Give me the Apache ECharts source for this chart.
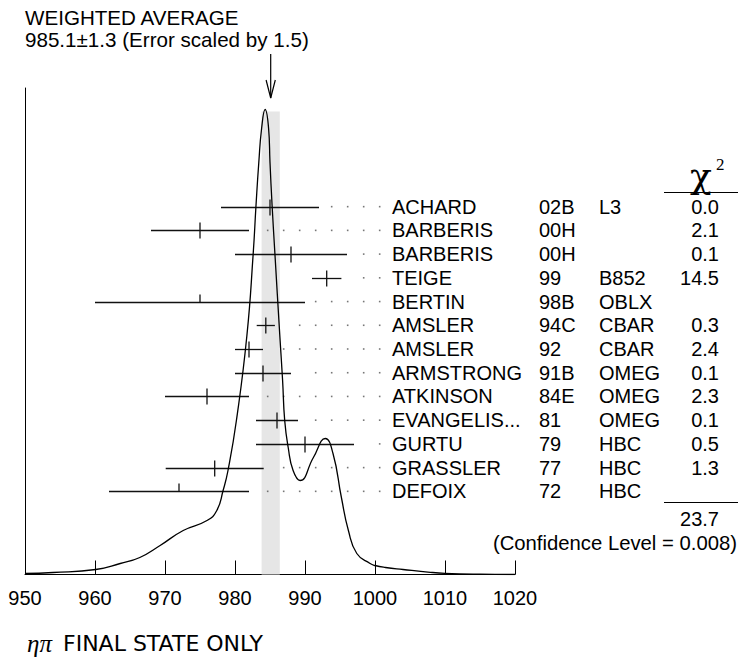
<!DOCTYPE html>
<html>
<head>
<meta charset="utf-8">
<script src="https://cdn.jsdelivr.net/npm/echarts@6/dist/echarts.min.js"></script>
<style>
  html, body { margin: 0; padding: 0; background: #fff; }
  #chart { width: 738px; height: 659px; }
</style>
</head>
<body>
<div id="chart"></div>
<script>
// ---- measurements (a0(980) mass, MeV) ----
const names   = ['ACHARD', 'BARBERIS', 'BARBERIS', 'TEIGE', 'BERTIN', 'AMSLER', 'AMSLER',
                 'ARMSTRONG', 'ATKINSON', 'EVANGELIS...', 'GURTU', 'GRASSLER', 'DEFOIX'];
const refs    = ['02B', '00H', '00H', '99', '98B', '94C', '92', '91B', '84E', '81', '79', '77', '72'];
const exps    = ['L3', '', '', 'B852', 'OBLX', 'CBAR', 'CBAR', 'OMEG', 'OMEG', 'OMEG', 'HBC', 'HBC', 'HBC'];
const values  = [985.0, 975.0, 988.0, 993.1, 975.0, 984.4, 982.0, 984.0, 976.0, 986.0, 990.0, 977.1, 972.0];
const errors  = [7.0, 7.0, 8.0, 2.1, 15.0, 1.3, 2.0, 4.0, 6.0, 3.0, 7.0, 7.0, 10.0];
const chi2    = [0.0, 2.1, 0.1, 14.5, null, 0.3, 2.4, 0.1, 2.3, 0.1, 0.5, 1.3, null];

// ---- fit result ----
const avg = 985.1;
const avgErr = 1.3;
const scaleFactor = 1.5;
const confLevel = 0.008;

// ---- ideogram curve (mass, density) ----
const curveX = [950.0, 954.0, 960.1, 963.6, 966.4, 969.3, 972.6, 976.0, 977.4, 978.3, 979.0,
                980.2, 981.7, 982.6, 983.0, 983.4, 983.8, 984.3, 984.8, 985.0, 985.3, 985.7,
                986.4, 986.8, 987.1, 987.6, 988.3, 989.3, 991.2, 992.9, 994.0, 995.2, 996.2,
                997.4, 999.3, 1000.0, 1001.5, 1004.0, 1007.9, 1010.0, 1015.0, 1020.0];
const curveY = [1.0, 2.0, 5.0, 11, 17, 29, 44, 54, 64, 84, 104,
                154, 239, 321, 369, 412, 446, 465, 446, 412, 369, 321,
                239, 194, 154, 127, 104, 94, 117, 136, 121, 77, 44,
                21, 11, 9, 7, 5, 2.2, 1.2, 0.3, 0];
const bandTop = 463;

// ---- axis ticks ----
const xMin = 950, xMax = 1020, xStep = 10;

const SANS = '"Liberation Sans", Arial, Helvetica, sans-serif';
const FONT = '20px ' + SANS;

// leader dots run on a fixed grid between the bars and the name column
const DOT_START = 984.67, DOT_STEP = 2.2857, DOT_COUNT = 8, DOT_GAP = 1.45;
const dots = [];
values.forEach((v, i) => {
  const end = v + errors[i];
  for (let k = 0; k < DOT_COUNT; k++) {
    const x = DOT_START + k * DOT_STEP;
    if (x > end + DOT_GAP) dots.push([x, i]);
  }
});

const rows = values.map((v, i) => [v, errors[i], i, chi2[i] === null ? 0 : 1]);
const chi2Total = chi2.filter(c => c !== null).reduce((a, b) => a + b, 0);

const chart = echarts.init(document.getElementById('chart'), null, { renderer: 'svg' });

function txt(text, x, y, font, align, vAlign) {
  return {
    type: 'text', silent: true,
    style: {
      text: text, x: x, y: y, font: font, fill: '#000',
      align: align || 'left', textAlign: align || 'left',
      verticalAlign: vAlign || 'middle', textVerticalAlign: vAlign || 'middle'
    }
  };
}

const option = {
  animation: false,
  backgroundColor: '#fff',
  grid: [
    { left: 25, right: 223, top: 88, bottom: 84.5 },
    { left: 25, right: 223, top: 194.8, height: 308.4 }
  ],
  xAxis: [
    {
      gridIndex: 0, type: 'value', min: xMin, max: xMax, interval: xStep,
      axisLine: { show: true, onZero: false, lineStyle: { color: '#000', width: 1 } },
      axisTick: { show: true, inside: true, length: 14, lineStyle: { color: '#000', width: 1 } },
      axisLabel: { fontSize: 20, color: '#000', fontFamily: SANS, margin: 13,
                   showMinLabel: true, showMaxLabel: true,
                   formatter: v => String(v) },
      splitLine: { show: false }
    },
    { gridIndex: 1, type: 'value', min: xMin, max: xMax, show: false }
  ],
  yAxis: [
    {
      gridIndex: 0, type: 'value', min: 0, max: 486.5,
      axisLine: { show: true, lineStyle: { color: '#000', width: 1 } },
      axisTick: { show: false }, axisLabel: { show: false }, splitLine: { show: false }
    },
    { gridIndex: 1, type: 'category', data: names.map((_, i) => String(i)), inverse: true, show: false }
  ],
  series: [
    {
      // error band of the weighted average
      type: 'custom', xAxisIndex: 0, yAxisIndex: 0, z: 1, silent: true,
      data: [[avg, avgErr]],
      renderItem: function (params, api) {
        const a = api.coord([api.value(0) - api.value(1), bandTop]);
        const b = api.coord([api.value(0) + api.value(1), 0]);
        return { type: 'rect', shape: { x: a[0], y: a[1], width: b[0] - a[0], height: b[1] - a[1] },
                 style: { fill: '#e6e6e6' } };
      }
    },
    {
      // arrow marking the weighted average
      type: 'custom', xAxisIndex: 0, yAxisIndex: 0, z: 5, silent: true, clip: false,
      data: [[avg]],
      renderItem: function (params, api) {
        const x = api.coord([api.value(0), 0])[0];
        const st = { stroke: '#000', lineWidth: 1.2, fill: null };
        return { type: 'group', children: [
          { type: 'line', shape: { x1: x, y1: 54, x2: x, y2: 98 }, style: st },
          { type: 'polyline', shape: { points: [[x - 4.6, 80], [x, 98], [x + 4.6, 80]] }, style: st }
        ] };
      }
    },
    {
      // leader dots
      type: 'scatter', xAxisIndex: 1, yAxisIndex: 1, z: 2, silent: true,
      symbol: 'rect', symbolSize: 1.6, itemStyle: { color: '#555' },
      data: dots
    },
    {
      // error bars
      type: 'custom', xAxisIndex: 1, yAxisIndex: 1, z: 3, silent: true,
      data: rows,
      renderItem: function (params, api) {
        const v = api.value(0), e = api.value(1), r = api.value(2), used = api.value(3);
        const c = api.coord([v, r]);
        const l = api.coord([v - e, r]);
        const h = api.coord([v + e, r]);
        const y = Math.round(c[1]) + 0.5;
        const st = { stroke: '#111', lineWidth: 1.3 };
        return { type: 'group', children: [
          { type: 'line', shape: { x1: l[0], y1: y, x2: h[0], y2: y }, style: st },
          { type: 'line', shape: { x1: c[0], y1: y - 8, x2: c[0], y2: used ? y + 8 : y }, style: st }
        ] };
      }
    },
    {
      // table of references
      type: 'custom', xAxisIndex: 1, yAxisIndex: 1, z: 6, silent: true, clip: false,
      data: names.map((_, i) => [xMin, i]),
      renderItem: function (params, api) {
        const i = api.value(1);
        const y = api.coord([xMin, i])[1];
        return { type: 'group', children: [
          txt(names[i], 392, y, FONT),
          txt(refs[i], 539, y, FONT),
          txt(exps[i], 599, y, FONT),
          txt(chi2[i] === null ? '' : chi2[i].toFixed(1), 719, y, FONT, 'right')
        ] };
      }
    },
    {
      // ideogram
      type: 'line', xAxisIndex: 0, yAxisIndex: 0, z: 4, silent: true,
      data: curveX.map((x, i) => [x, curveY[i]]),
      showSymbol: false, smooth: 0.5,
      lineStyle: { color: '#000', width: 1.3 }
    }
  ],
  graphic: [
    txt('WEIGHTED AVERAGE', 25, 17.5, '20.6px ' + SANS),
    txt(avg.toFixed(1) + '\u00b1' + avgErr.toFixed(1) + ' (Error scaled by ' + scaleFactor.toFixed(1) + ')', 25, 39.7, '20.6px ' + SANS),
    txt('\u03c7', 701, 193, '36px "DejaVu Serif", "Liberation Serif", serif', 'center', 'bottom'),
    txt('2', 716, 164, '17px "Liberation Serif", "Times New Roman", serif', 'left', 'middle'),
    { type: 'line', silent: true, shape: { x1: 664, y1: 192.5, x2: 738, y2: 192.5 }, style: { stroke: '#000', lineWidth: 1 } },
    { type: 'line', silent: true, shape: { x1: 664, y1: 502.5, x2: 738, y2: 502.5 }, style: { stroke: '#000', lineWidth: 1 } },
    txt(chi2Total.toFixed(1), 719, 519, FONT, 'right'),
    txt('(Confidence Level = ' + confLevel.toFixed(3) + ')', 737, 543, '20.3px ' + SANS, 'right'),
    txt('\u03b7\u03c0', 27, 643, 'italic 25px "Liberation Serif", "Times New Roman", serif'),
    txt('FINAL STATE ONLY', 63, 643, '22px "DejaVu Sans", sans-serif')
  ]
};

chart.setOption(option);
</script>
</body>
</html>
